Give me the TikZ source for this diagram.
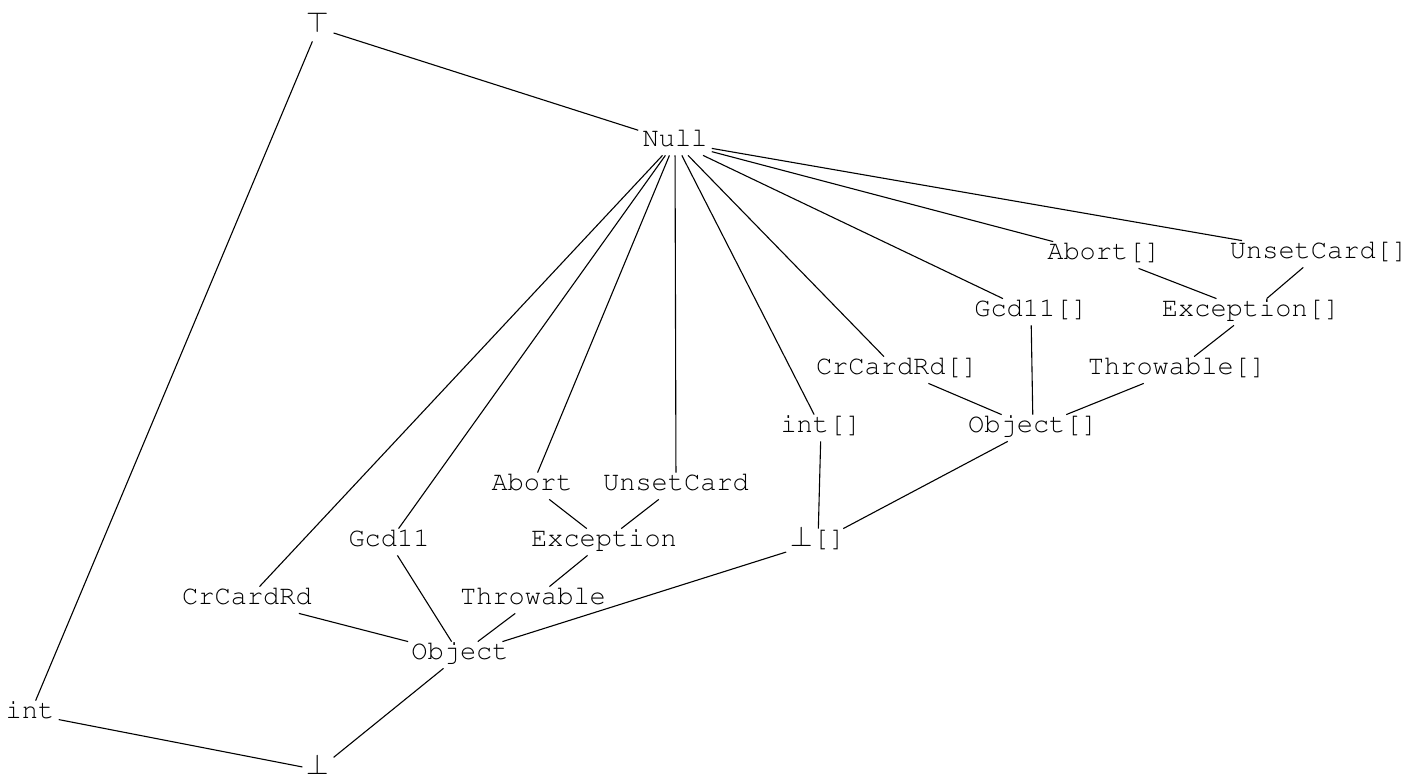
\documentclass[tikz,border=0pt]{standalone}
\usepackage[T1]{fontenc}
\renewcommand\ttdefault{pcr}
\begin{document}
\begin{tikzpicture}[x=0.5pt,y=-0.5pt,
  lat/.style={inner xsep=2pt, inner ysep=2pt, anchor=base,
    font=\fontsize{13.5}{16}\selectfont\ttfamily,
    text height=0.7em, text depth=0.2em},
  edge/.style={line width=0.55pt}]
\useasboundingbox (0,0) rectangle (1414,779);

% lattice elements (placed by text baseline)
\node[lat] (top)    at (318,33)   {$\top$};
\node[lat] (null)   at (675,147)  {Null};
\node[lat] (abortA) at (1104,260) {Abort[]};
\node[lat] (unsetA) at (1319,259) {UnsetCard[]};
\node[lat] (gcdA)   at (1031,317) {Gcd11[]};
\node[lat] (excA)   at (1251,317) {Exception[]};
\node[lat] (crA)    at (897,375)  {CrCardRd[]};
\node[lat] (throwA) at (1177,375) {Throwable[]};
\node[lat] (intA)   at (821,433)  {int[]};
\node[lat] (objA)   at (1033,433) {Object[]};
\node[lat] (abort)  at (532,491)  {Abort};
\node[lat] (unset)  at (676,491)  {UnsetCard};
\node[lat] (gcd)    at (389,547)  {Gcd11};
\node[lat] (exc)    at (604,547)  {Exception};
\node[lat] (botA)   at (818,547)  {$\bot$[]};
\node[lat] (cr)     at (247,605)  {CrCardRd};
\node[lat] (throw)  at (533,605)  {Throwable};
\node[lat] (obj)    at (460,660)  {Object};
\node[lat] (int)    at (30,719)   {int};
\node[lat] (bot)    at (318,775)  {$\bot$};

% order relations
\draw[edge] (top) -- (null);
\draw[edge] (top) -- (int);
\foreach \n in {cr,gcd,abort,unset,intA,crA,gcdA,abortA,unsetA}
  \draw[edge] (null) -- (\n);
\draw[edge] (abortA) -- (excA);
\draw[edge] (unsetA) -- (excA);
\draw[edge] (excA) -- (throwA);
\draw[edge] (gcdA) -- (objA);
\draw[edge] (crA) -- (objA);
\draw[edge] (throwA) -- (objA);
\draw[edge] (intA) -- (botA);
\draw[edge] (objA) -- (botA);
\draw[edge] (abort) -- (exc);
\draw[edge] (unset) -- (exc);
\draw[edge] (exc) -- (throw);
\draw[edge] (gcd) -- (obj);
\draw[edge] (cr) -- (obj);
\draw[edge] (throw) -- (obj);
\draw[edge] (botA) -- (obj);
\draw[edge] (obj) -- (bot);
\draw[edge] (int) -- (bot);
\end{tikzpicture}
\end{document}
